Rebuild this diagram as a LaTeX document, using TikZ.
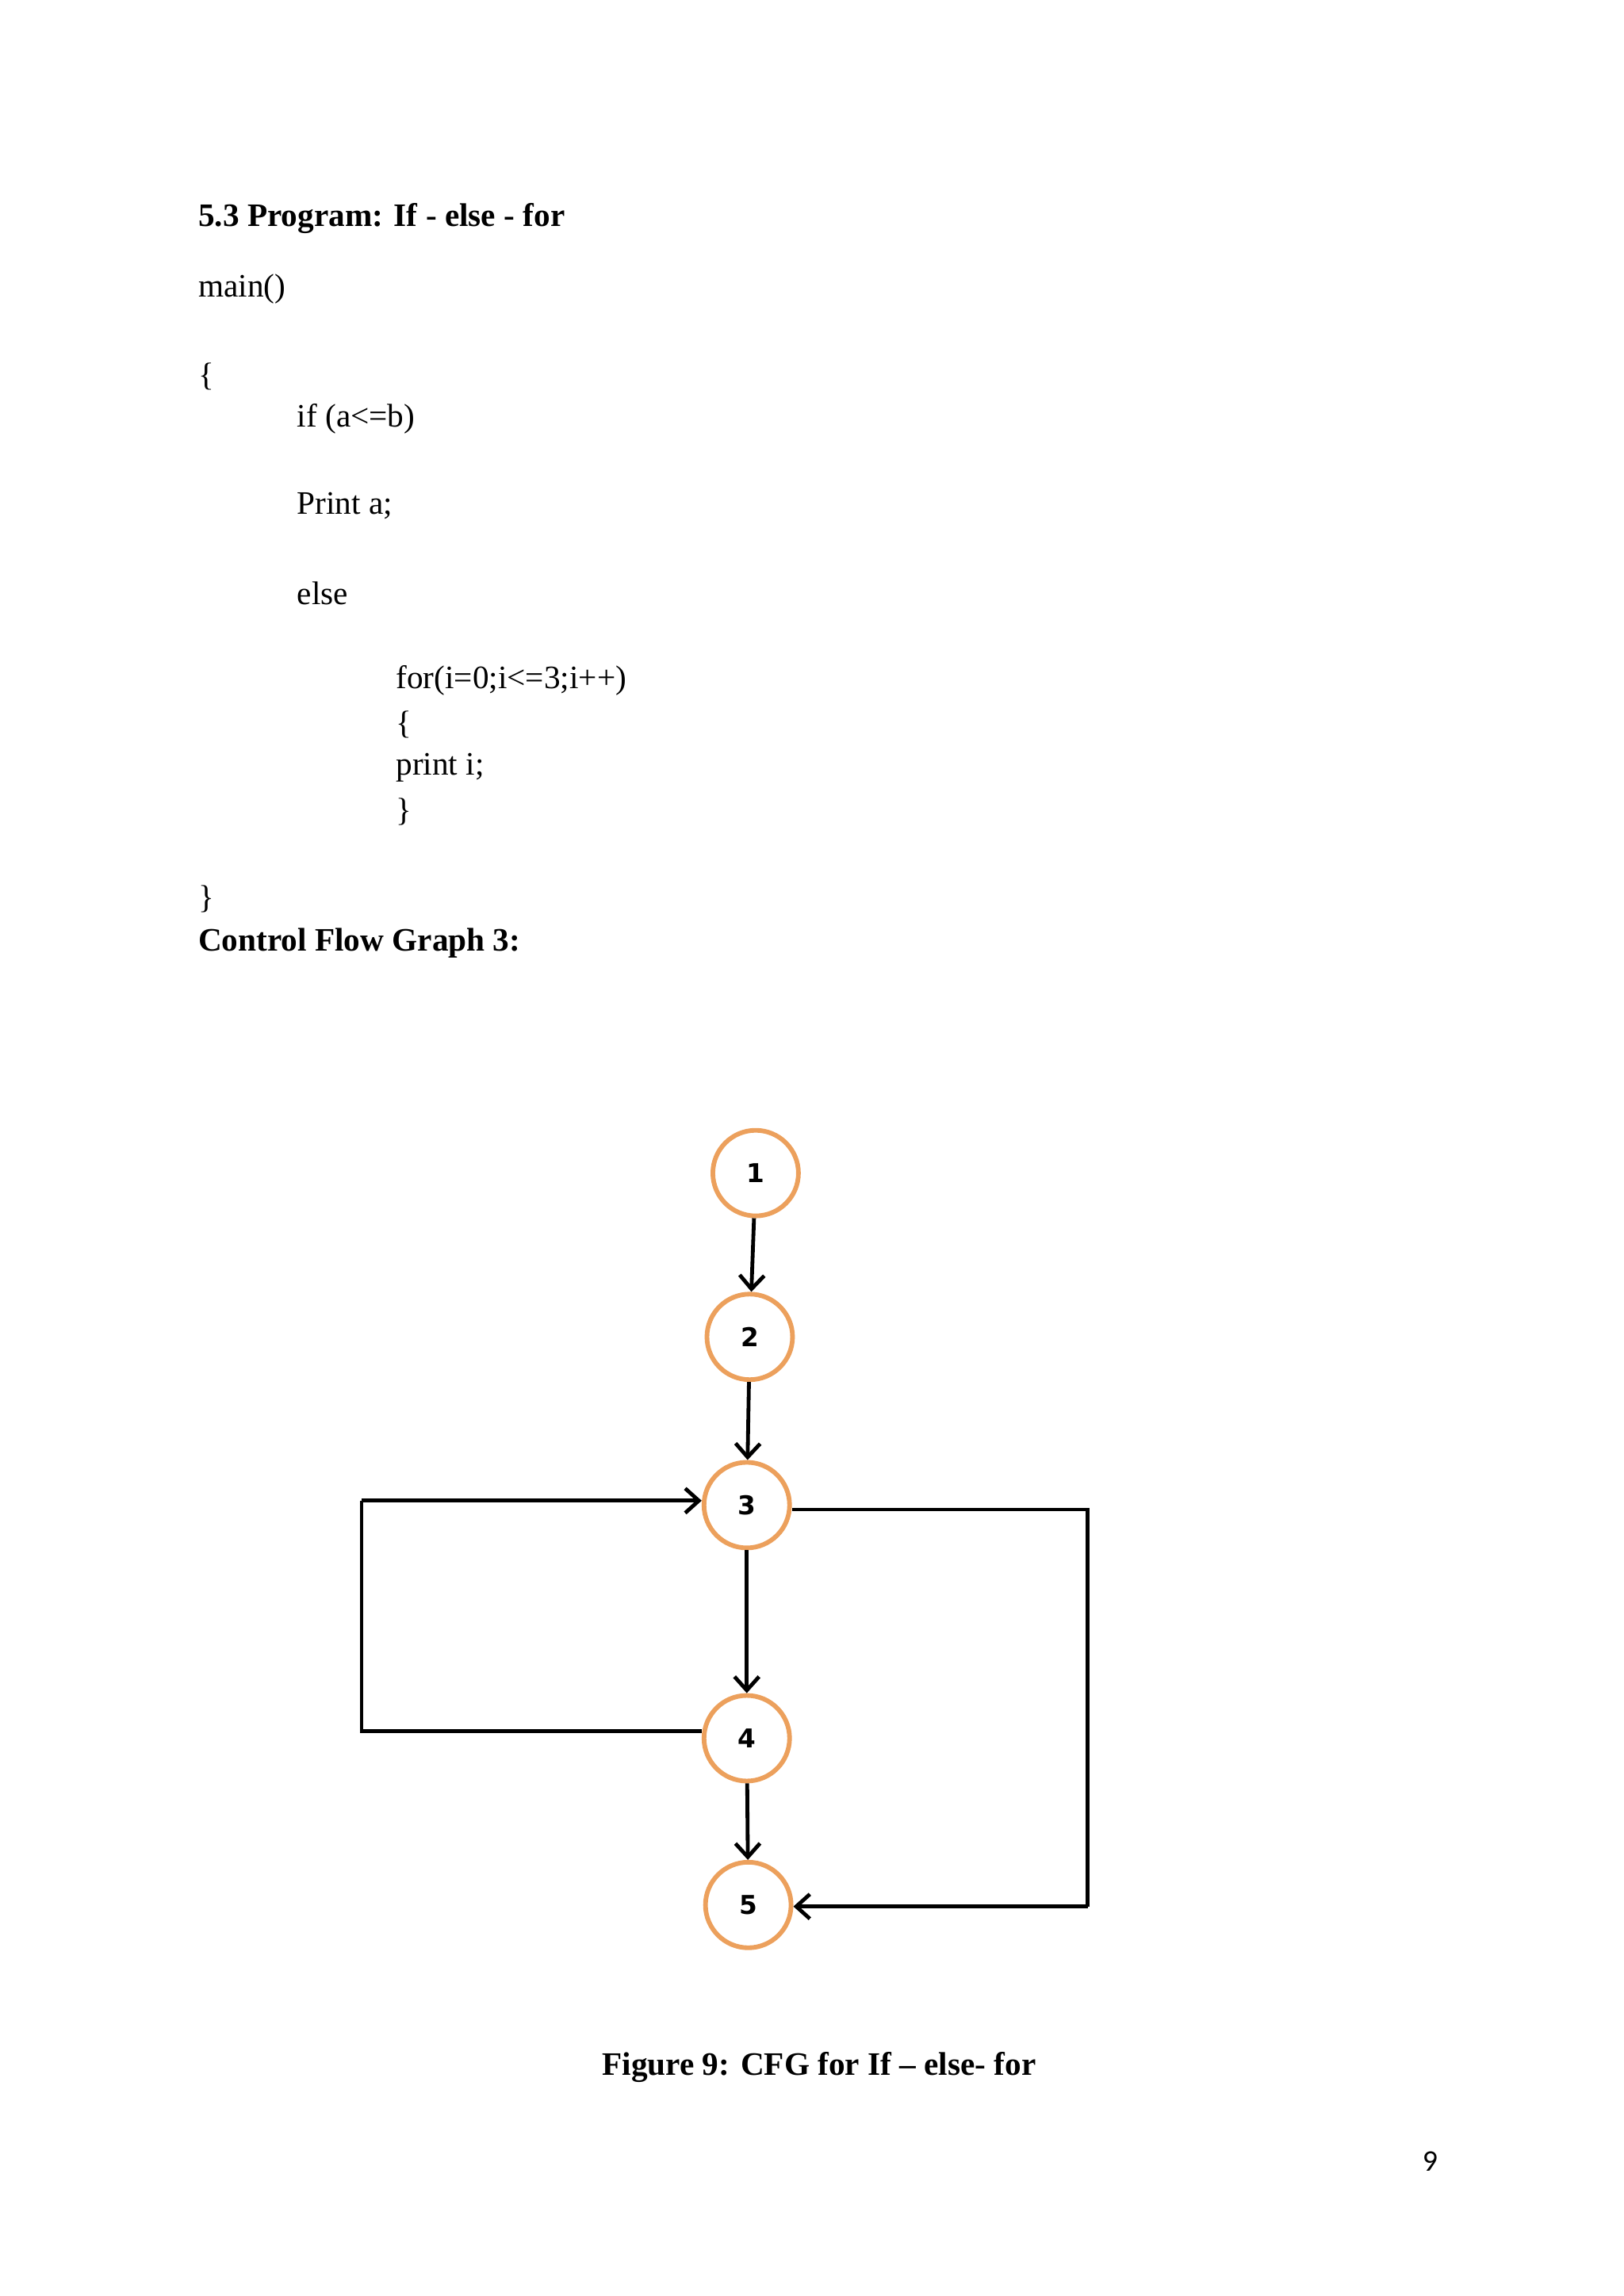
\documentclass[tikz,border=0pt]{standalone}
\usepackage{fontspec}
\setmainfont{Liberation Serif}
\newfontfamily\numfont{DejaVu Sans}
\newfontfamily\pgfont{Carlito}
\usetikzlibrary{arrows.meta}
\definecolor{ring}{RGB}{236,160,92}
\begin{document}
\begin{tikzpicture}[x=0.5411pt,y=-0.5411pt,
  txt/.style={anchor=west,inner sep=0pt,font=\fontsize{12}{14}\selectfont},
  cnode/.style={circle,draw=ring,line width=1.7pt,minimum size=58*0.5411pt,inner sep=0pt,font=\numfont\bfseries\fontsize{9.5}{11}\selectfont},
  edge/.style={line width=1.4pt,-{Straight Barb[length=5pt,width=9pt,line width=1.4pt]}},
  plain/.style={line width=1.4pt}]
\useasboundingbox (0,0) rectangle (1100,1556);
\node[txt,font=\bfseries\fontsize{12}{14}\selectfont] (h) at (134,148) {5.3 Program: If - else - for};
\node[txt] (l1) at (134,196) {main()};
\node[txt] (l2) at (134,255) {\{};
\node[txt] (l3) at (201,284) {if (a<=b)};
\node[txt] (l4) at (201,343) {Print a;};
\node[txt] (l5) at (201,402) {else};
\node[txt] (l6) at (268,461) {for(i=0;i<=3;i++)};
\node[txt] (l7) at (268,491) {\{};
\node[txt] (l8) at (268,520) {print i;};
\node[txt] (l9) at (268,550) {\}};
\node[txt] (l10) at (134,609) {\}};
\node[txt,font=\bfseries\fontsize{12}{14}\selectfont] (cfg) at (134,639) {Control Flow Graph 3:};
\node[cnode] (n1) at (512,795) {1};
\node[cnode] (n2) at (508,906) {2};
\node[cnode] (n3) at (506,1020) {3};
\node[cnode] (n4) at (506,1178) {4};
\node[cnode] (n5) at (507,1291) {5};
\draw[edge] (n1) -- (n2);
\draw[edge] (n2) -- (n3);
\draw[edge] (n3) -- (n4);
\draw[edge] (n4) -- (n5);
\coordinate (lb) at (245,1173);
\coordinate (lt) at (245,1017);
\coordinate (rt) at (737,1023);
\coordinate (rb) at (737,1292);
\draw[plain] (n4.west |- 0,1173) -- (lb) -- (lt);
\draw[edge] (lt) -- (n3.west |- 0,1017);
\draw[plain] (n3.east |- 0,1023) -- (rt) -- (rb);
\draw[edge] (rb) -- (n5.east |- 0,1292);
\node[inner sep=0pt,font=\bfseries\fontsize{12}{14}\selectfont] (cap) at (555,1401) {Figure 9: CFG for If -- else- for};
\node[inner sep=0pt,font=\pgfont\fontsize{11}{13}\selectfont] (pg) at (969,1465) {9};
\end{tikzpicture}
\end{document}
